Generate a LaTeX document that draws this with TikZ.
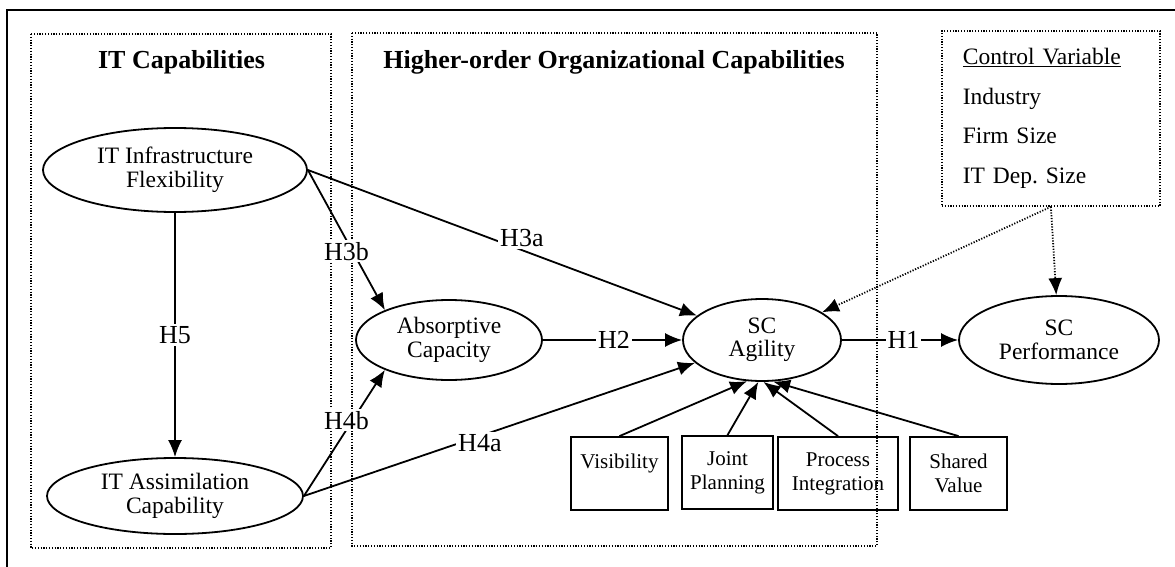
\documentclass[tikz,border=0pt]{standalone}
\usepackage{fontspec}
\setmainfont{Liberation Serif}
\usepackage{tikz}
\usetikzlibrary{shapes.geometric,arrows.meta,positioning,calc}
\frenchspacing

\begin{document}
\begin{tikzpicture}[x=1pt,y=-1pt,
	region/.style={draw,line width=1.8pt,dash pattern=on 1.2pt off 1.6pt},
	latent/.style={draw,ellipse,line width=1.8pt,inner sep=0pt,align=center,font=\fontsize{23.5}{23.5}\selectfont},
	indicator/.style={draw,rectangle,line width=1.8pt,minimum height=73pt,inner sep=3pt,align=center,font=\fontsize{21}{24}\selectfont},
	hyp/.style={line width=1.8pt,-{Latex[length=17pt,width=14pt]}},
	ctrlarrow/.style={line width=1.8pt,dash pattern=on 1.2pt off 1.6pt,-{Latex[length=17pt,width=14pt]}},
	lbl/.style={fill=white,inner sep=2pt,font=\fontsize{26}{26}\selectfont},
	title/.style={font=\bfseries\fontsize{26}{26}\selectfont,anchor=base}]
	\useasboundingbox (0,0) rectangle (1175,567);
	\draw[line width=2.8pt] (1175,10) -- (7,10) -- (7,567);
	% the two groups
	\draw[region] (31,34) rectangle (331,548);
	\draw[region] (352,33) rectangle (877,546);
	\node[title] (itcap) at (181.5,69) {IT Capabilities};
	\node[title] (hoc) at (614,69) {Higher-order Organizational Capabilities};
	\node[region,anchor=north west,text width=176pt,inner xsep=21pt,inner ysep=0pt,minimum height=175pt,align=left,font=\fontsize{23.5}{39.5}\selectfont] (ctrl) at (941,30) {\underline{Control Variable}\\Industry\\Firm Size\\IT Dep. Size};
	% constructs
	\node[latent,minimum width=264pt,minimum height=84pt] (infra) at (175,170) {IT Infrastructure\\Flexibility};
	\node[latent,minimum width=256pt,minimum height=76pt] (assim) at (175,496) {IT Assimilation\\Capability};
	\node[latent,minimum width=186pt,minimum height=80pt] (absorb) at (449,340) {Absorptive\\Capacity};
	\node[latent,minimum width=158pt,minimum height=82pt] (agil) at (762,340) {SC\\Agility};
	\node[latent,minimum width=200pt,minimum height=88pt] (perf) at (1059,340) {SC\\Performance};
	% dimensions of agility
	\node[indicator,minimum width=97pt] (vis) at (619.5,473.5) {Visibility\\\mbox{}};
	\node[indicator,minimum width=91pt] (joint) at (727.5,472.5) {Joint\\Planning};
	\node[indicator,minimum width=120pt] (proc) at (838,473.5) {Process\\Integration};
	\node[indicator,minimum width=97pt] (shared) at (958.5,473.5) {Shared\\Value};
	% hypotheses
	\draw[hyp] (infra.east) -- node[lbl,pos=.55,yshift=12pt] {H3a} (agil);
	\draw[hyp] (infra.east) -- node[lbl,pos=.58,xshift=-6pt] {H3b} (absorb.155);
	\draw[hyp] (infra) -- node[lbl] {H5} (assim);
	\draw[hyp] (assim.east) -- node[lbl,pos=.6,xshift=-6pt] {H4b} (absorb.205);
	\draw[hyp] (assim.east) -- node[lbl,pos=.45,yshift=-7pt] {H4a} (agil);
	\draw[hyp] (absorb) -- node[lbl,pos=.51] {H2} (agil);
	\draw[hyp] (agil) -- node[lbl,pos=.53] {H1} (perf);
	\draw[hyp] (vis.north) -- (agil.250);
	\draw[hyp] (joint.north) -- (agil.265);
	\draw[hyp] (proc.north) -- (agil.272);
	\draw[hyp] (shared.north) -- (agil.285);
	% controls
	\draw[ctrlarrow] (ctrl.south) -- (agil);
	\draw[ctrlarrow] (ctrl.south) -- (perf);
\end{tikzpicture}
\end{document}
